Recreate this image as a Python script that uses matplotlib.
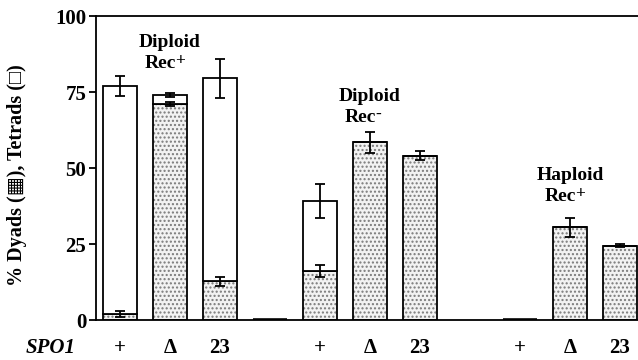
import matplotlib
matplotlib.use('Agg')
import matplotlib.pyplot as plt

# percent dyads / tetrads per SPO1 allele, three strain backgrounds
positions = [0, 1, 2, 3, 4, 5, 6, 7, 8, 9, 10]
tick_labels = ['+', 'Δ', '23', '', '+', 'Δ', '23', '', '+', 'Δ', '23']
dyads = [2, 71, 12.8, 0, 16, 58.5, 54, 0, 0, 30.5, 24.5]
totals = [77, 74, 79.5, 0, 39, 58.5, 54, 0, 0, 30.5, 24.5]
total_err = [3.2, 0.7, 6.5, 0, 5.6, 3.5, 1.5, 0, 0, 3.1, 0.5]
dyad_err = [1.0, 0.7, 1.5, 0, 2.0, 0, 0, 0, 0, 0, 0]
drawn = [True, True, True, True, True, True, True, False, True, True, True]

group_names = ['Diploid', 'Diploid', 'Haploid']
group_signs = ['+', '-', '+']
group_xy = [(1, 87.8), (5, 70), (9, 44)]

plt.rcParams['font.family'] = ['Liberation Serif', 'DejaVu Sans']
plt.rcParams['font.weight'] = 'bold'
plt.rcParams['hatch.linewidth'] = 1.0

fig = plt.figure(figsize=(6.38, 3.6), dpi=100)
ax = fig.add_axes([96 / 638, 40 / 360, 1 - 96 / 638, 304 / 360])

w = 0.68
xs = [p for p, d in zip(positions, drawn) if d]
dy = [v for v, d in zip(dyads, drawn) if d]
tet = [t - v for t, v, d in zip(totals, dyads, drawn) if d]

# speckled fill for dyads, then plain outlines on top
ax.bar(xs, dy, w, color='#f2f2f2', edgecolor='#7a7a7a', hatch='....', linewidth=0, zorder=2)
ax.bar(xs, dy, w, fill=False, edgecolor='black', linewidth=1.3, zorder=3)
ax.bar(xs, tet, w, bottom=dy, color='white', edgecolor='black', linewidth=1.3, zorder=3)

# empty (zero) bars show up as a heavier stroke on the baseline
zx = [p for p, t, d in zip(positions, totals, drawn) if d and t == 0]
ax.bar(zx, [0] * len(zx), w, fill=False, edgecolor='black', linewidth=2.6, zorder=3)

for x, t, e in zip(positions, totals, total_err):
    if e > 0:
        ax.errorbar(x, t, yerr=e, color='black', capsize=3.5, elinewidth=1.3, capthick=1.3, zorder=4)
for x, v, e in zip(positions, dyads, dyad_err):
    if e > 0:
        ax.errorbar(x, v, yerr=e, color='black', capsize=3.5, elinewidth=1.3, capthick=1.3, zorder=4)

# two-line strain labels, "Rec" with a raised sign
for name, sign, (gx, gy) in zip(group_names, group_signs, group_xy):
    ax.annotate(name, (gx, gy), xytext=(0, 7.5), textcoords='offset points',
                ha='center', va='center', fontsize=14, fontweight='bold')
    ax.annotate('Rec', (gx, gy), xytext=(4, -7.5), textcoords='offset points',
                ha='right', va='center', fontsize=14, fontweight='bold')
    ax.annotate(sign, (gx, gy), xytext=(4, -5.5), textcoords='offset points',
                ha='left', va='center', fontsize=12.5, fontweight='bold')

ax.set_xlim(-0.48, 10.36)
ax.set_ylim(0, 100)
ax.set_yticks([0, 25, 50, 75, 100])
ax.tick_params(axis='y', labelsize=15, length=5, width=1.3, pad=2)
ax.set_xticks(positions)
ax.set_xticklabels(tick_labels, fontsize=15, fontweight='bold')
ax.tick_params(axis='x', length=0, pad=13)

ax.spines['right'].set_visible(False)
for s in ['left', 'top', 'bottom']:
    ax.spines[s].set_linewidth(1.3)

fig.text(51 / 638, 1 - 348 / 360, 'SPO1', ha='center', va='center', fontsize=15,
         fontweight='bold', fontstyle='italic')
fig.text(17 / 638, 1 - 175 / 360, '% Dyads (▦), Tetrads (□)', rotation=90,
         ha='center', va='center', fontsize=14.5, fontweight='bold')

fig.savefig('out.png', dpi=100)
